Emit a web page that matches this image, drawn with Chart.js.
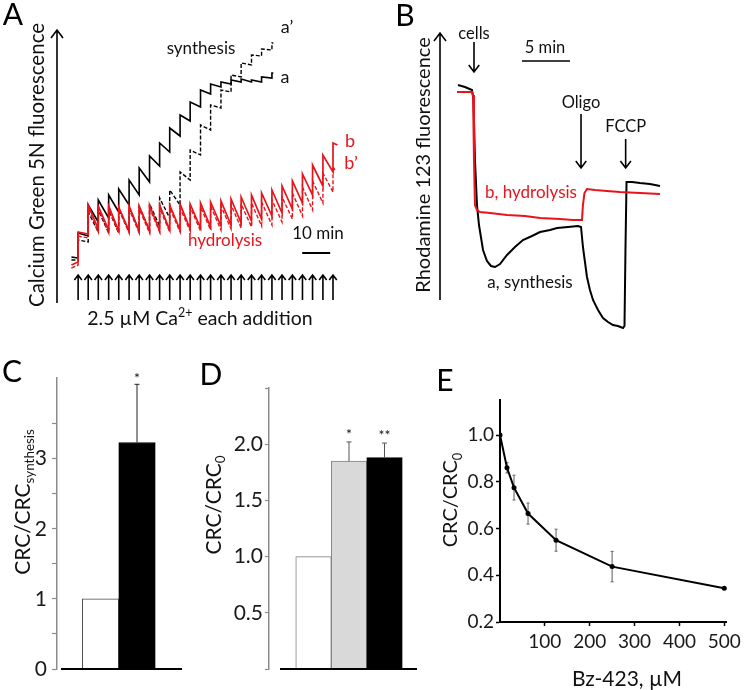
<!DOCTYPE html>
<html>
<head>
<meta charset="utf-8">
<script src="https://cdn.jsdelivr.net/npm/chart.js@4.4.1/dist/chart.umd.min.js"></script>
<style>
  body { margin: 0; background: #fff; }
  #fig { position: relative; width: 745px; height: 690px; }
  #fig canvas { position: absolute; }
</style>
</head>
<body>
<div id="fig">
  <canvas id="cA" width="370" height="345" style="left:0;top:0"></canvas>
  <canvas id="cB" width="375" height="345" style="left:370px;top:0"></canvas>
  <canvas id="cC" width="200" height="345" style="left:0;top:345px"></canvas>
  <canvas id="cD" width="220" height="345" style="left:200px;top:345px"></canvas>
  <canvas id="cE" width="325" height="345" style="left:420px;top:345px"></canvas>
</div>
<script>
/* ---------- data ---------- */

// A: Ca2+ additions (min) and Calcium Green 5N levels (a.u.) after each addition / before the next
const caAdditions = [2.9, 6.5, 10.1, 13.8, 17.4, 21.1, 24.7, 28.4, 32.0, 35.6, 39.3, 42.9, 46.6,
                     50.2, 53.9, 57.5, 61.1, 64.8, 68.4, 72.1, 75.7, 79.4, 83.0, 86.6, 90.3, 93.9];
const synthBase    = [43, 42];
const synthPeaks   = [67, 95, 100, 105, 111, 120, 132, 144, 157, 172, 185, 198, 210, 216, 218, 220, 221, 220, 223, 227];
const synthTroughs = [64, 78, 82, 88, 95, 105, 118, 134, 148, 164, 179, 193, 206, 213, 216, 218, 218, 218, 222, 227];
const synthEnd = 72.6;
const synthPBase    = [40, 40];
const synthPPeaks   = [60, 88, 90, 90, 91, 92, 93, 96, 102, 110, 128, 150, 175, 195, 210, 225, 237, 245, 251, 257];
const synthPTroughs = [58, 68, 67, 67, 68, 69, 70, 74, 82, 95, 120, 145, 170, 192, 208, 223, 235, 244, 250, 257];
const synthPEnd = 72.6;
const hydroBase    = [35, 38];
const hydroPeaks   = [68, 95, 94, 94, 93, 94, 94, 95, 95, 95, 96, 96, 97, 98, 99, 101, 103, 105, 107, 110, 114, 119, 126, 135, 145, 157];
const hydroTroughs = [66, 71, 70, 69, 69, 69, 69, 69, 70, 70, 71, 72, 73, 74, 75, 77, 79, 81, 84, 87, 91, 97, 105, 114, 128, 155];
const hydroEnd = 95.5;
const hydroPBase    = [32, 35];
const hydroPPeaks   = [64, 92, 92, 91, 91, 91, 91, 92, 92, 92, 92, 93, 93, 94, 94, 95, 96, 97, 98, 100, 103, 107, 113, 119, 127, 133];
const hydroPTroughs = [62, 68, 67, 67, 67, 67, 67, 68, 68, 68, 69, 69, 70, 70, 71, 72, 73, 74, 75, 78, 81, 84, 90, 97, 108, 130];
const hydroPEnd = 94.6;

// B: Rhodamine 123 traces (min, a.u.)
const rhoTimeSynth = [0.83, 1.56, 2.29, 2.45, 2.60, 2.81, 3.02, 3.44, 3.85, 4.27, 4.69, 5.21, 5.94, 6.77, 7.60, 8.54,
                      9.38, 10.42, 11.15, 12.29, 13.33, 13.65, 13.85, 14.06, 14.27, 14.58, 14.90, 15.42, 15.94, 16.46,
                      16.98, 17.50, 18.02, 18.18, 18.28, 18.39, 18.96, 19.79, 20.83, 21.88];
const rhoSynth = [250, 248, 245, 235, 175, 130, 110, 85, 74, 69, 68, 71, 80, 88, 95, 99, 103, 105, 107, 108,
                  109, 108, 88, 73, 58, 45, 35, 25, 17, 13, 10, 9, 7, 9, 85, 153, 153, 152, 151, 149];
const rhoTimeHydro = [0.73, 2.29, 2.40, 2.50, 2.60, 2.81, 3.13, 4.17, 5.94, 7.81, 9.38, 11.46, 12.81, 13.75,
                      13.85, 14.01, 14.27, 15.10, 16.35, 17.71, 19.79, 21.88];
const rhoHydro = [243, 243, 240, 175, 130, 125, 123, 122, 120, 119, 117, 116, 115, 115, 130, 142, 146, 145, 144, 143, 142, 141];
const rhoEvents = ['cells', 'Oligo', 'FCCP'];
const rhoEventTimes = [2.5, 13.65, 18.3];

// C: CRC / CRC synthesis
const cPos = [1, 2];
const cValues = [1.0, 3.23];
const cErrors = [0, 0.83];
const cStars = ['', '*'];

// D: CRC / CRC0
const dPos = [1, 2, 3];
const dValues = [1.0, 1.85, 1.88];
const dErrors = [0, 0.17, 0.13];
const dStars = ['', '*', '**'];

// E: Bz-423 titration
const eDose = [0, 15.6, 31.25, 62.5, 125, 250, 500];
const eRatio = [1.0, 0.86, 0.775, 0.664, 0.55, 0.437, 0.344];
const eErr = [0, 0.022, 0.053, 0.045, 0.047, 0.065, 0];
const eXTicks = [100, 200, 300, 400, 500];
const eYTicks = [0.2, 0.4, 0.6, 0.8, 1.0];

/* ---------- helpers ---------- */

const FONT = 'Lato, "Open Sans", sans-serif';
const RED = '#e8141b';
Chart.defaults.font.family = FONT;
Chart.defaults.color = '#111';

function sawtooth(base, times, peaks, troughs, tEnd) {
  const pts = [{ x: 0.5, y: base[0] }, { x: times[0], y: base[1] }];
  for (let i = 0; i < peaks.length; i++) {
    pts.push({ x: times[i], y: peaks[i] });
    pts.push({ x: i + 1 < peaks.length ? times[i + 1] : tEnd, y: troughs[i] });
  }
  return pts;
}

function rich(ctx, parts, x, y, size, color, rotate) {
  ctx.save();
  ctx.translate(x, y);
  if (rotate) ctx.rotate(-Math.PI / 2);
  ctx.fillStyle = color;
  ctx.textAlign = 'left';
  ctx.textBaseline = 'alphabetic';
  const fontOf = k => (k ? size * 0.64 : size) + 'px ' + FONT;
  let w = 0;
  for (const [t, k] of parts) { ctx.font = fontOf(k); w += ctx.measureText(t).width; }
  let cx = -w / 2;
  for (const [t, k] of parts) {
    ctx.font = fontOf(k);
    const dy = k === 'sub' ? size * 0.22 : k === 'sup' ? -size * 0.4 : 0;
    ctx.fillText(t, cx, size * 0.36 + dy);
    cx += ctx.measureText(t).width;
  }
  ctx.restore();
}
const say = (ctx, t, x, y, size, color) => rich(ctx, [[t]], x, y, size, color || '#111');

function seg(ctx, x0, y0, x1, y1, color, lw) {
  ctx.save();
  ctx.strokeStyle = color; ctx.lineWidth = lw;
  ctx.beginPath(); ctx.moveTo(x0, y0); ctx.lineTo(x1, y1); ctx.stroke();
  ctx.restore();
}

function arrow(ctx, x, yTail, yTip, head, lw) {
  const d = yTip < yTail ? 1 : -1;
  ctx.save();
  ctx.strokeStyle = '#000'; ctx.lineWidth = lw;
  ctx.beginPath();
  ctx.moveTo(x, yTail); ctx.lineTo(x, yTip);
  ctx.moveTo(x - head * 0.75, yTip + d * head); ctx.lineTo(x, yTip); ctx.lineTo(x + head * 0.75, yTip + d * head);
  ctx.stroke();
  ctx.restore();
}

function errorBars(ctx, xs, ys, pos, vals, errs, color, lw, cap, both) {
  pos.forEach((p, i) => {
    if (!errs[i]) return;
    const x = xs.getPixelForValue(p);
    const yTop = ys.getPixelForValue(vals[i] + errs[i]);
    const yBot = ys.getPixelForValue(both ? vals[i] - errs[i] : vals[i]);
    seg(ctx, x, yBot, x, yTop, color, lw);
    seg(ctx, x - cap, yTop, x + cap, yTop, color, lw);
    if (both) seg(ctx, x - cap, yBot, x + cap, yBot, color, lw);
  });
}

const base = {
  responsive: false, animation: false, devicePixelRatio: 1,
  plugins: { legend: { display: false }, tooltip: { enabled: false } },
  elements: { point: { radius: 0 }, line: { tension: 0 } }
};

/* ---------- A: Ca2+ retention traces ---------- */

new Chart(document.getElementById('cA'), {
  type: 'line',
  data: {
    datasets: [
      { data: sawtooth(hydroBase, caAdditions, hydroPeaks, hydroTroughs, hydroEnd), borderColor: RED, borderWidth: 1.7 },
      { data: sawtooth(hydroPBase, caAdditions, hydroPPeaks, hydroPTroughs, hydroPEnd), borderColor: RED, borderWidth: 1.4, borderDash: [4, 2] },
      { data: sawtooth(synthBase, caAdditions, synthPeaks, synthTroughs, synthEnd), borderColor: '#000', borderWidth: 1.6 },
      { data: sawtooth(synthPBase, caAdditions, synthPPeaks, synthPTroughs, synthPEnd), borderColor: '#000', borderWidth: 1.4, borderDash: [4, 2] }
    ]
  },
  options: {
    ...base,
    layout: { padding: { left: 70, right: 30, top: 30, bottom: 45 } },
    scales: {
      x: { type: 'linear', display: false, min: 0, max: 96.4 },
      y: { display: false, min: 0, max: 270 }
    }
  },
  plugins: [{
    id: 'panelA',
    afterDraw(chart) {
      const { ctx, scales: { x, y } } = chart;
      say(ctx, 'A', 13, 14, 30, '#000');
      arrow(ctx, 57, 303, 30, 8, 1.6);
      rich(ctx, [['Calcium Green 5N fluorescence']], 37, 165, 20.5, '#111', true);
      caAdditions.forEach(t => arrow(ctx, x.getPixelForValue(t), y.getPixelForValue(0), y.getPixelForValue(25), 5, 1.6));
      rich(ctx, [['2.5 \u00b5M Ca'], ['2+', 'sup'], [' each addition']], 200, 318, 19.5, '#111');
      say(ctx, 'synthesis', 201, 48, 17);
      say(ctx, 'a\u2019', 287, 27, 18);
      say(ctx, 'a', 285, 77, 18);
      say(ctx, 'b', 350, 141, 18, RED);
      say(ctx, 'b\u2019', 351, 163, 18, RED);
      say(ctx, 'hydrolysis', 225, 240, 17, RED);
      say(ctx, '10 min', 318, 233, 17);
      seg(ctx, x.getPixelForValue(82.9), y.getPixelForValue(47), x.getPixelForValue(92.9), y.getPixelForValue(47), '#000', 2);
    }
  }]
});

/* ---------- B: Rhodamine 123 ---------- */

new Chart(document.getElementById('cB'), {
  type: 'line',
  data: {
    datasets: [
      { data: rhoTimeHydro.map((t, i) => ({ x: t, y: rhoHydro[i] })), borderColor: RED, borderWidth: 2 },
      { data: rhoTimeSynth.map((t, i) => ({ x: t, y: rhoSynth[i] })), borderColor: '#000', borderWidth: 2 }
    ]
  },
  options: {
    ...base,
    layout: { padding: { left: 80, right: 75, top: 40, bottom: 10 } },
    scales: {
      x: { type: 'linear', display: false, min: 0, max: 22.92 },
      y: { display: false, min: 0, max: 295 }
    }
  },
  plugins: [{
    id: 'panelB',
    afterDraw(chart) {
      const { ctx, scales: { x } } = chart;
      say(ctx, 'B', 35, 15, 30, '#000');
      arrow(ctx, 70, 300, 33, 8, 1.6);
      rich(ctx, [['Rhodamine 123 fluorescence']], 53, 165, 20, '#111', true);
      const labelY = [33, 102, 126], tailY = [42, 114, 139], tipY = [72, 168, 168];
      rhoEvents.forEach((name, i) => {
        const px = x.getPixelForValue(rhoEventTimes[i]);
        say(ctx, name, px, labelY[i], 16.5);
        arrow(ctx, px, tailY[i], tipY[i], 7, 1.6);
      });
      say(ctx, '5 min', x.getPixelForValue(9.9), 47, 16.5);
      seg(ctx, x.getPixelForValue(7.5), 61, x.getPixelForValue(12.5), 61, '#000', 1.6);
      say(ctx, 'b, hydrolysis', 161, 192, 17, RED);
      say(ctx, 'a, synthesis', 160, 282, 17);
    }
  }]
});

/* ---------- C ---------- */

new Chart(document.getElementById('cC'), {
  type: 'bar',
  data: {
    datasets: [{
      data: cPos.map((p, i) => ({ x: p, y: cValues[i] })),
      backgroundColor: ['#fff', '#000'], borderColor: ['#444', '#000'], borderWidth: 1,
      barThickness: 36.5
    }]
  },
  options: {
    ...base,
    layout: { padding: { left: 0, right: 18, top: 33, bottom: 21 } },
    scales: {
      x: { type: 'linear', display: false, min: -0.192, max: 3.233, afterBuildTicks: s => { s.ticks = []; } },
      y: {
        min: 0, max: 4.15,
        afterFit: s => { s.width = 57; },
        afterBuildTicks: s => { s.ticks = s.ticks.filter(t => t.value <= 3.51); },
        border: { color: '#8c8c8c', width: 1.5 },
        grid: { drawOnChartArea: false, tickLength: 5, tickColor: '#8c8c8c', tickWidth: 1.2 },
        ticks: { stepSize: 0.5, padding: 5, autoSkip: false, font: { size: 21 }, color: '#1a1a1a',
                 callback: v => Number.isInteger(v) ? String(v) : '' }
      }
    }
  },
  plugins: [{
    id: 'panelC',
    afterDraw(chart) {
      const { ctx, chartArea: a, scales: { x, y } } = chart;
      say(ctx, 'C', 12, 26, 30, '#000');
      rich(ctx, [['CRC/CRC'], ['synthesis', 'sub']], 22, 157, 21, '#111', true);
      seg(ctx, a.left + 4, a.bottom, a.right, a.bottom, '#000', 2);
      errorBars(ctx, x, y, cPos, cValues, cErrors, '#222', 1, 2.5, false);
      cPos.forEach((p, i) => cStars[i] && say(ctx, cStars[i], x.getPixelForValue(p), y.getPixelForValue(cValues[i] + cErrors[i]) - 6, 14));
    }
  }]
});

/* ---------- D ---------- */

new Chart(document.getElementById('cD'), {
  type: 'bar',
  data: {
    datasets: [{
      data: dPos.map((p, i) => ({ x: p, y: dValues[i] })),
      backgroundColor: ['#fff', '#d9d9d9', '#000'], borderColor: ['#808080', '#808080', '#000'], borderWidth: 1,
      barThickness: 35.5
    }]
  },
  options: {
    ...base,
    layout: { padding: { left: 0, right: 3, top: 43, bottom: 21 } },
    scales: {
      x: { type: 'linear', display: false, min: -0.2535, max: 3.915, afterBuildTicks: s => { s.ticks = []; } },
      y: {
        min: 0, max: 2.5,
        afterFit: s => { s.width = 69; },
        border: { color: '#8c8c8c', width: 1.5 },
        grid: { drawOnChartArea: false, tickLength: 4, tickColor: '#8c8c8c', tickWidth: 1.2 },
        ticks: { stepSize: 0.5, padding: 2, autoSkip: false, font: { size: 21 }, color: '#1a1a1a',
                 callback: v => (v > 0 && v < 2.5) ? v.toFixed(1) : '' }
      }
    }
  },
  plugins: [{
    id: 'panelD',
    afterDraw(chart) {
      const { ctx, chartArea: a, scales: { x, y } } = chart;
      say(ctx, 'D', 11, 29, 30, '#000');
      rich(ctx, [['CRC/CRC'], ['0', 'sub']], 13, 160, 21, '#111', true);
      seg(ctx, a.left + 11, a.bottom, a.right, a.bottom, '#000', 2);
      errorBars(ctx, x, y, dPos, dValues, dErrors, '#555', 1, 2.5, false);
      dPos.forEach((p, i) => dStars[i] && say(ctx, dStars[i], x.getPixelForValue(p), y.getPixelForValue(dValues[i] + dErrors[i]) - 8, 14));
    }
  }]
});

/* ---------- E ---------- */

new Chart(document.getElementById('cE'), {
  type: 'line',
  data: {
    datasets: [{
      data: eDose.map((d, i) => ({ x: d, y: eRatio[i] })),
      borderColor: '#000', borderWidth: 2, pointRadius: 2.5, pointBackgroundColor: '#000', pointBorderWidth: 0
    }]
  },
  options: {
    ...base,
    layout: { padding: { left: 0, right: 17, top: 55, bottom: 0 } },
    scales: {
      x: {
        type: 'linear', min: 0, max: 506,
        afterFit: s => { s.height = 68; },
        afterBuildTicks: s => { s.ticks = eXTicks.map(v => ({ value: v })); },
        border: { color: '#000', width: 2 },
        grid: { drawOnChartArea: false, tickLength: 4, tickColor: '#000', tickWidth: 1.5 },
        ticks: { padding: 4, maxRotation: 0, autoSkip: false, font: { size: 19 }, color: '#1a1a1a',
                 callback: v => String(v) }
      },
      y: {
        min: 0.2, max: 1.15,
        afterFit: s => { s.width = 80; },
        afterBuildTicks: s => { s.ticks = eYTicks.map(v => ({ value: v })); },
        border: { color: '#000', width: 2 },
        grid: { drawOnChartArea: false, tickLength: 4, tickColor: '#000', tickWidth: 1.5 },
        ticks: { padding: 2, autoSkip: false, font: { size: 19 }, color: '#1a1a1a',
                 callback: v => v.toFixed(1) }
      }
    }
  },
  plugins: [{
    id: 'panelE',
    beforeDatasetsDraw(chart) {
      const { ctx, scales: { x, y } } = chart;
      errorBars(ctx, x, y, eDose, eRatio, eErr, '#777', 1.2, 1.5, true);
    },
    afterDraw(chart) {
      const { ctx } = chart;
      say(ctx, 'E', 25, 35, 30, '#000');
      rich(ctx, [['CRC/CRC'], ['0', 'sub']], 30, 155, 20, '#111', true);
      say(ctx, 'Bz-423, \u00b5M', 207, 333, 21);
    }
  }]
});
</script>
</body>
</html>
